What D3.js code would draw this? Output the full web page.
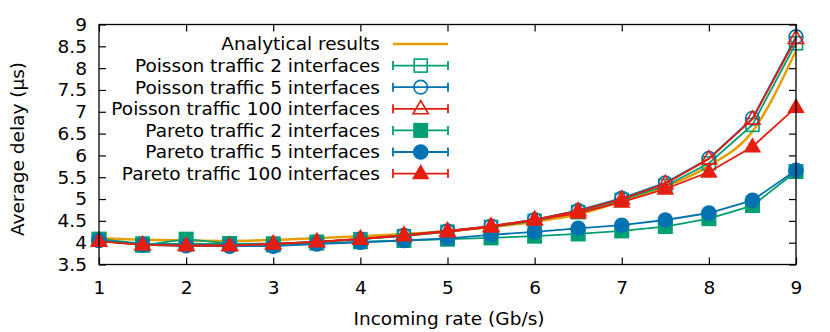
<!DOCTYPE html>
<html>
<head>
<meta charset="utf-8">
<script src="https://cdn.jsdelivr.net/npm/d3@7"></script>
<style>
  body { margin: 0; background: #fff; }
  text { font-family: "DejaVu Sans", sans-serif; fill: #000; }
</style>
</head>
<body>
<svg id="chart" width="830" height="332"></svg>
<script>
// incoming rate (Gb/s)
var rates = [1, 1.5, 2, 2.5, 3, 3.5, 4, 4.5, 5, 5.5, 6, 6.5, 7, 7.5, 8, 8.5, 9];

// average delay (us)
var analytical = [4.1, 4.07, 4.05, 4.04, 4.06, 4.1, 4.15, 4.2, 4.27, 4.36, 4.48, 4.65, 4.95, 5.28, 5.76, 6.55, 8.4];
var poisson2   = [4.08, 3.98, 3.97, 3.97, 3.98, 4.02, 4.08, 4.15, 4.25, 4.36, 4.5, 4.7, 4.98, 5.3, 5.82, 6.7, 8.57];
var poisson5   = [4.05, 3.96, 3.95, 3.95, 3.97, 4.02, 4.08, 4.17, 4.27, 4.38, 4.53, 4.74, 5.02, 5.37, 5.93, 6.85, 8.72];
var poisson100 = [4.04, 3.95, 3.94, 3.94, 3.97, 4.02, 4.09, 4.17, 4.27, 4.38, 4.53, 4.73, 5.0, 5.35, 5.92, 6.83, 8.68];
var pareto2    = [4.08, 3.94, 4.08, 3.98, 3.95, 3.99, 4.02, 4.05, 4.08, 4.11, 4.15, 4.2, 4.27, 4.37, 4.55, 4.85, 5.63];
var pareto5    = [4.05, 3.95, 3.93, 3.92, 3.92, 3.97, 4.01, 4.05, 4.1, 4.18, 4.25, 4.33, 4.4, 4.52, 4.68, 4.97, 5.66];
var pareto100  = [4.03, 3.95, 3.93, 3.93, 3.97, 4.02, 4.08, 4.16, 4.25, 4.36, 4.52, 4.68, 4.93, 5.23, 5.62, 6.2, 7.1];

var xTicks = [1, 2, 3, 4, 5, 6, 7, 8, 9];
var yTicks = [3.5, 4, 4.5, 5, 5.5, 6, 6.5, 7, 7.5, 8, 8.5, 9];

var green = "#009e73", blue = "#0072b2", red = "#e51e10", orange = "#e69f00";
var fontSize = "18.5px";

//series list in gnuplot draw order
var series = [
  {name: "Poisson traffic 2 interfaces",   values: poisson2,   color: green, shape: "square",   filled: false},
  {name: "Poisson traffic 5 interfaces",   values: poisson5,   color: blue,  shape: "circle",   filled: false},
  {name: "Poisson traffic 100 interfaces", values: poisson100, color: red,   shape: "triangle", filled: false},
  {name: "Pareto traffic 2 interfaces",    values: pareto2,    color: green, shape: "square",   filled: true},
  {name: "Pareto traffic 5 interfaces",    values: pareto5,    color: blue,  shape: "circle",   filled: true},
  {name: "Pareto traffic 100 interfaces",  values: pareto100,  color: red,   shape: "triangle", filled: true}
];

var svg = d3.select("#chart");
var margin = {top: 24.5, right: 34, bottom: 67.5, left: 99};
var width = 830 - margin.left - margin.right,
    height = 332 - margin.top - margin.bottom;

var g = svg.append("g").attr("transform", "translate(" + margin.left + "," + margin.top + ")");

var x = d3.scaleLinear().domain([1, 9]).range([0, width]);
var y = d3.scaleLinear().domain([3.5, 9]).range([height, 0]);

//axes with inward ticks, mirrored on top and right
var tick = 7;
g.append("g").attr("transform", "translate(0," + height + ")")
  .call(d3.axisBottom(x).tickValues(xTicks).tickSize(-tick).tickPadding(tick + 9).tickFormat(d3.format("d")))
  .call(function(a) { a.select(".domain").remove(); a.selectAll("text").style("font-size", fontSize); });
g.append("g")
  .call(d3.axisTop(x).tickValues(xTicks).tickSize(-tick).tickFormat(""))
  .call(function(a) { a.select(".domain").remove(); });
g.append("g")
  .call(d3.axisLeft(y).tickValues(yTicks).tickSize(-tick).tickPadding(tick + 5).tickFormat(d3.format("~g")))
  .call(function(a) { a.select(".domain").remove(); a.selectAll("text").style("font-size", fontSize); });
g.append("g").attr("transform", "translate(" + width + ",0)")
  .call(d3.axisRight(y).tickValues(yTicks).tickSize(-tick).tickFormat(""))
  .call(function(a) { a.select(".domain").remove(); });
g.selectAll(".tick line").attr("stroke", "#000").attr("stroke-width", 1.2);
g.selectAll(".tick text").attr("fill", "#000");

//clip for lines
svg.append("clipPath").attr("id", "clip").append("rect")
  .attr("x", 0).attr("y", 0).attr("width", width).attr("height", height);

//analytical curve
var curve = d3.line()
  .x(function(d, i) { return x(rates[i]); })
  .y(function(d) { return y(d); })
  .curve(d3.curveMonotoneX);
g.append("path").datum(analytical)
  .attr("clip-path", "url(#clip)")
  .attr("fill", "none").attr("stroke", orange).attr("stroke-width", 2.5)
  .attr("d", curve);

var line = d3.line()
  .x(function(d, i) { return x(rates[i]); })
  .y(function(d) { return y(d); });

function drawMarker(sel, s, cx, cy) {
  var fill = s.filled ? s.color : "none";
  var sw = s.filled ? 0 : 1.6;
  if (s.shape == "square") {
    var h = s.filled ? 7.5 : 6.5;
    sel.append("rect").attr("x", cx - h).attr("y", cy - h).attr("width", 2 * h).attr("height", 2 * h)
      .attr("fill", fill).attr("stroke", s.color).attr("stroke-width", sw);
  } else if (s.shape == "circle") {
    sel.append("circle").attr("cx", cx).attr("cy", cy).attr("r", s.filled ? 7.8 : 6.8)
      .attr("fill", fill).attr("stroke", s.color).attr("stroke-width", sw);
  } else {
    var r = s.filled ? 9.5 : 8.3;
    var pts = [[cx, cy - r], [cx + r * 0.92, cy + r * 0.6], [cx - r * 0.92, cy + r * 0.6]];
    sel.append("polygon").attr("points", pts.map(function(p) { return p.join(","); }).join(" "))
      .attr("fill", fill).attr("stroke", s.color).attr("stroke-width", sw);
  }
}

series.forEach(function(s) {
  var sg = g.append("g");
  sg.append("path").datum(s.values)
    .attr("fill", "none").attr("stroke", s.color).attr("stroke-width", 1.8)
    .attr("d", line);
  s.values.forEach(function(v, i) {
    drawMarker(sg, s, x(rates[i]), y(v));
  });
});

//border
g.append("rect").attr("width", width).attr("height", height)
  .attr("fill", "none").attr("stroke", "#000").attr("stroke-width", 1.3);

//legend
var legend = svg.append("g");
var legendRows = [{name: "Analytical results", color: orange, analytic: true}].concat(series);
legendRows.forEach(function(s, i) {
  var ly = 44 + i * 21.6;
  legend.append("text").attr("x", 380).attr("y", ly).attr("dy", "0.35em")
    .attr("text-anchor", "end").style("font-size", fontSize).text(s.name);
  if (s.analytic) {
    legend.append("line").attr("x1", 393).attr("x2", 448).attr("y1", ly).attr("y2", ly)
      .attr("stroke", orange).attr("stroke-width", 2.5);
  } else {
    legend.append("line").attr("x1", 393).attr("x2", 448).attr("y1", ly).attr("y2", ly)
      .attr("stroke", s.color).attr("stroke-width", 1.8);
    [393, 448].forEach(function(cx) {
      legend.append("line").attr("x1", cx).attr("x2", cx).attr("y1", ly - 4.5).attr("y2", ly + 4.5)
        .attr("stroke", s.color).attr("stroke-width", 1.8);
    });
    drawMarker(legend, s, 420.7, ly);
  }
});

//axis titles
svg.append("text").attr("x", 449).attr("y", 319).attr("dy", "0.35em")
  .attr("text-anchor", "middle").style("font-size", fontSize).text("Incoming rate (Gb/s)");
svg.append("text").attr("transform", "translate(18,149) rotate(-90)").attr("dy", "0.35em")
  .attr("text-anchor", "middle").style("font-size", fontSize).text("Average delay (μs)");
</script>
</body>
</html>
